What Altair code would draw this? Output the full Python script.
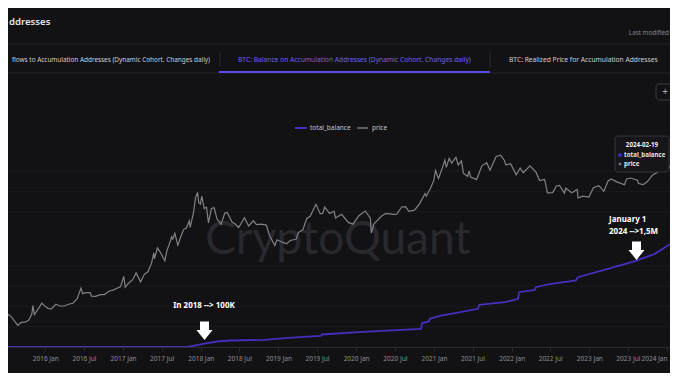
import altair as alt
import pandas as pd

# ---------------- data ----------------
price_dates = [
    "2015-06-01", "2015-06-20", "2015-07-12", "2015-07-25", "2015-08-18", "2015-08-25", "2015-09-10",
    "2015-09-28", "2015-10-15", "2015-10-30", "2015-11-04", "2015-11-11", "2015-11-25", "2015-12-16",
    "2015-12-28", "2016-01-15", "2016-01-30", "2016-02-20", "2016-03-10", "2016-03-30", "2016-04-20",
    "2016-05-10", "2016-05-30", "2016-06-17", "2016-06-25", "2016-07-10", "2016-07-30", "2016-08-05",
    "2016-08-25", "2016-09-15", "2016-10-05", "2016-10-28", "2016-11-15", "2016-12-01", "2016-12-20",
    "2017-01-04", "2017-01-11", "2017-01-25", "2017-02-15", "2017-03-03", "2017-03-24", "2017-04-10",
    "2017-04-28", "2017-05-15", "2017-05-25", "2017-05-28", "2017-06-11", "2017-06-25", "2017-07-16",
    "2017-07-26", "2017-08-12", "2017-08-17", "2017-08-22", "2017-09-01", "2017-09-15", "2017-09-28",
    "2017-10-12", "2017-10-25", "2017-11-08", "2017-11-12", "2017-11-28", "2017-12-07", "2017-12-17",
    "2017-12-22", "2017-12-30", "2018-01-06", "2018-01-17", "2018-01-28", "2018-02-06", "2018-02-20",
    "2018-03-05", "2018-03-18", "2018-04-06", "2018-04-24", "2018-05-05", "2018-05-28", "2018-06-10",
    "2018-06-28", "2018-07-25", "2018-08-14", "2018-09-05", "2018-09-20", "2018-10-10", "2018-11-05",
    "2018-11-20", "2018-12-15", "2018-12-25", "2019-01-15", "2019-02-08", "2019-02-25", "2019-03-25",
    "2019-04-05", "2019-04-25", "2019-05-14", "2019-05-30", "2019-06-26", "2019-07-16", "2019-07-28",
    "2019-08-06", "2019-08-29", "2019-09-20", "2019-09-26", "2019-10-25", "2019-11-25", "2019-12-17",
    "2020-01-14", "2020-02-13", "2020-03-08", "2020-03-12", "2020-03-25", "2020-04-30", "2020-05-20",
    "2020-06-25", "2020-07-10", "2020-08-02", "2020-08-20", "2020-09-05", "2020-10-01", "2020-10-25",
    "2020-11-20", "2020-11-26", "2020-12-17", "2020-12-31", "2021-01-08", "2021-01-22", "2021-02-10",
    "2021-02-21", "2021-02-28", "2021-03-13", "2021-03-25", "2021-04-14", "2021-04-25", "2021-05-10",
    "2021-05-19", "2021-06-08", "2021-06-15", "2021-06-22", "2021-07-20", "2021-08-14", "2021-09-06",
    "2021-09-21", "2021-10-20", "2021-11-10", "2021-11-28", "2021-12-04", "2021-12-27", "2022-01-22",
    "2022-02-10", "2022-02-24", "2022-03-28", "2022-04-26", "2022-05-12", "2022-06-05", "2022-06-18",
    "2022-07-13", "2022-07-30", "2022-08-14", "2022-09-06", "2022-09-12", "2022-10-10", "2022-11-05",
    "2022-11-09", "2022-12-01", "2022-12-30", "2023-01-20", "2023-02-15", "2023-03-10", "2023-03-30",
    "2023-04-13", "2023-05-10", "2023-06-15", "2023-06-25", "2023-07-13", "2023-08-15", "2023-08-20",
    "2023-09-11", "2023-10-01", "2023-10-24", "2023-11-15", "2023-12-08", "2023-12-20", "2024-01-11",
    "2024-01-23", "2024-02-15",
]
price_values = [
    225, 245, 310, 290, 230, 215, 238,
    240, 255, 315, 420, 310, 360, 455,
    420, 380, 375, 440, 415, 415, 440,
    455, 530, 760, 630, 650, 650, 580,
    575, 610, 610, 690, 710, 750, 800,
    1130, 780, 890, 1010, 1270, 940, 1200,
    1330, 1780, 2500, 2050, 2950, 2550, 1920,
    2700, 3800, 4300, 4000, 4850, 3250, 4200,
    5500, 5800, 7400, 5900, 9800, 16000, 19300,
    13800, 13000, 17100, 11200, 11700, 6900, 11200,
    11500, 7900, 6600, 9600, 9800, 7100, 6700,
    5900, 8200, 6200, 7400, 6500, 6600, 6400,
    4500, 3200, 3900, 3650, 3400, 3800, 3950,
    5000, 5400, 8000, 8600, 12900, 9400, 9500,
    11800, 9500, 10200, 8100, 9200, 7000, 6600,
    8800, 10300, 8000, 4900, 6700, 8700, 9500,
    9200, 9250, 11800, 11900, 10200, 10600, 13100,
    18600, 17000, 22800, 29000, 40500, 31000, 45000,
    57500, 45000, 61000, 52000, 63500, 49000, 56000,
    37000, 33000, 40000, 32500, 29800, 47500, 52700,
    41000, 65000, 68000, 57000, 49000, 51000, 35000,
    44000, 37500, 47500, 38000, 28800, 30000, 19000,
    19200, 24000, 24500, 18800, 22400, 19100, 21300,
    16000, 17000, 16500, 22700, 24300, 20000, 28500,
    30400, 27600, 25000, 30500, 31400, 29200, 26100,
    25100, 27900, 34500, 37800, 44000, 43600, 46600,
    39500, 52000,
]

balance_dates = [
    "2015-06-01", "2017-11-01", "2018-01-12", "2018-03-18", "2018-05-18", "2018-10-29",
    "2019-02-15", "2019-07-19", "2019-07-24", "2020-01-10", "2020-11-01", "2020-11-06",
    "2020-12-08", "2020-12-13", "2021-02-08", "2021-04-10", "2021-07-27", "2021-08-01",
    "2021-12-01", "2022-01-31", "2022-02-05", "2022-04-20", "2022-04-25", "2022-06-20",
    "2022-10-30", "2022-11-08", "2023-03-29", "2023-08-03", "2023-11-04", "2024-01-05",
    "2024-02-21",
]
balance_values = [
    0, 0, 47000, 81000, 96000, 106000,
    136000, 163000, 185000, 219000, 269000, 352000,
    377000, 421000, 466000, 500000, 565000, 624000,
    662000, 712000, 810000, 845000, 884000, 924000,
    983000, 1032000, 1156000, 1268000, 1377000, 1500000,
    1574000,
]

tick_months = [(y, m) for y in range(2016, 2025) for m in (1, 7) if (y, m) <= (2024, 1)]
price_grid = [10000, 20000, 40000]
balance_grid = [300000, 600000, 900000, 1200000]

legend_labels = ["total_balance", "price"]
tab_labels = [
    "flows to Accumulation Addresses (Dynamic Cohort. Changes daily)",
    "BTC: Balance on Accumulation Addresses (Dynamic Cohort. Changes daily)",
    "BTC: Realized Price for Accumulation Addresses",
]
header_title = "ddresses"
header_note = "Last modified"
tooltip_title = "2024-02-19"
note_2018 = "In 2018 --> 100K"
note_2024 = ["January 1", "2024 -->1,5M"]

# ---------------- styling ----------------
BG = "#121215"
PURPLE = "#4330bd"
GRAY = "#818187"
FONT = "Noto Sans"
W, H = 662, 339

price_df = pd.DataFrame({"date": pd.to_datetime(price_dates), "price": price_values})
bal_df = pd.DataFrame({"date": pd.to_datetime(balance_dates), "total_balance": balance_values})

x_dom = [alt.DateTime(year=2015, month=7, date=10), alt.DateTime(year=2024, month=1, date=15)]
x_axis = alt.Axis(
    format="%Y %b",
    values=[alt.DateTime(year=y, month=m, date=1) for y, m in tick_months],
    title=None, grid=False, domainColor="#2a2a30", tickColor="#2a2a30", tickSize=4,
    labelColor="#8e8e94", labelFontSize=6.5, labelFont=FONT, labelPadding=4, labelFlush=6,
)
x_enc = alt.X("date:T", scale=alt.Scale(domain=x_dom), axis=x_axis)

bal_scale = alt.Scale(domain=[0, 5010000], nice=False, zero=True)
price_scale = alt.Scale(type="log", domain=[103.7, 9860000], nice=False)

grid_p = alt.Chart(pd.DataFrame({"v": price_grid})).mark_rule(color="#1b1b20", strokeWidth=1).encode(
    y=alt.Y("v:Q", scale=price_scale, axis=None))
grid_b = alt.Chart(pd.DataFrame({"v": balance_grid})).mark_rule(color="#1b1b20", strokeWidth=1).encode(
    y=alt.Y("v:Q", scale=bal_scale, axis=None))

price_line = alt.Chart(price_df).mark_line(color=GRAY, strokeWidth=1.2, clip=True).encode(
    x=x_enc, y=alt.Y("price:Q", scale=price_scale, axis=None))
bal_line = alt.Chart(bal_df).mark_line(color=PURPLE, strokeWidth=1.8, clip=True).encode(
    x=x_enc, y=alt.Y("total_balance:Q", scale=bal_scale, axis=None))


def txt(s, x, y, size, color, weight="normal", align="left", font=FONT):
    return alt.Chart(pd.DataFrame({"t": [s]})).mark_text(
        text=s, fontSize=size, color=color, fontWeight=weight, align=align,
        baseline="middle", font=font).encode(x=alt.value(x), y=alt.value(y))


def hrule(x1, x2, y, color, w=1):
    return alt.Chart(pd.DataFrame({"a": [0]})).mark_rule(color=color, strokeWidth=w).encode(
        x=alt.value(x1), x2=alt.value(x2), y=alt.value(y))


def vrule(x, y1, y2, color, w=1):
    return alt.Chart(pd.DataFrame({"a": [0]})).mark_rule(color=color, strokeWidth=w).encode(
        x=alt.value(x), y=alt.value(y1), y2=alt.value(y2))


def box(x1, x2, y1, y2, fill, stroke):
    return alt.Chart(pd.DataFrame({"a": [0]})).mark_rect(
        fill=fill, stroke=stroke, strokeWidth=1, cornerRadius=3).encode(
        x=alt.value(x1), x2=alt.value(x2), y=alt.value(y1), y2=alt.value(y2))


ARROW = "M-0.45,-0.92L0.45,-0.92L0.45,-0.09L0.8,-0.09L0,0.92L-0.8,-0.09L-0.45,-0.09Z"


def arrow(x, y):
    return alt.Chart(pd.DataFrame({"a": [0]})).mark_point(
        shape=ARROW, size=400, filled=True, fill="white", opacity=1, strokeWidth=0).encode(
        x=alt.value(x), y=alt.value(y))


def dot(x, y, color, shape="circle"):
    return alt.Chart(pd.DataFrame({"a": [0]})).mark_point(
        shape=shape, size=14, filled=True, fill=color, opacity=1, strokeWidth=0).encode(
        x=alt.value(x), y=alt.value(y))


layers = [
    grid_p, grid_b,
    txt("CryptoQuant", 330, 232, 46, "#28282d", weight="normal", align="center", font="Lato"),
    price_line, bal_line,
    # header
    txt(header_title, 1, 14, 9.6, "#e4e4e6", weight=600),
    txt(header_note, 661, 25, 6.3, "#85858b", align="right"),
    hrule(0, W, 36, "#222228"),
    hrule(0, W, 65, "#222228"),
    txt(tab_labels[0], 202, 51.5, 6.4, "#cfcfd2", align="right"),
    vrule(212, 44, 59, "#2a2a30"),
    txt(tab_labels[1], 230, 51.5, 6.7, "#6d61ee"),
    hrule(211, 482, 64, "#5b4ee6", 2),
    vrule(482, 44, 59, "#2a2a30"),
    txt(tab_labels[2], 501, 51.5, 6.7, "#cfcfd2"),
    box(648, 690, 76, 92, BG, "#3a3a40"),
    txt("+", 657, 84, 10, "#aaaaaf", align="center"),
    # legend
    hrule(287, 299, 120, PURPLE, 2),
    txt(legend_labels[0], 302, 120, 6.5, "#c4c4c8"),
    hrule(349, 360, 120, "#5a5a60", 2),
    txt(legend_labels[1], 364, 120, 6.5, "#c4c4c8"),
    # annotations
    txt(note_2018, 196, 298, 8, "white", weight="bold", align="center"),
    arrow(196.5, 322.8),
    txt(note_2024[0], 601, 211.5, 8, "white", weight="bold"),
    txt(note_2024[1], 601, 223.5, 8, "white", weight="bold"),
    arrow(628.5, 242.8),
    # tooltip
    box(607, 661, 128, 164, "#16161a", "#34343a"),
    txt(tooltip_title, 634, 137, 6.2, "#f0f0f2", weight="bold", align="center"),
    dot(612, 147, "#3f2fd0"),
    txt(legend_labels[0], 616, 147, 6.2, "#e0e0e3", weight="bold"),
    dot(612, 156, "#76767c", shape="diamond"),
    txt(legend_labels[1], 616, 156, 6.2, "#e0e0e3", weight="bold"),
]

chart = alt.layer(*layers).resolve_scale(y="independent").properties(
    width=W, height=H, background=BG,
    padding={"left": 0, "top": 0, "right": 0, "bottom": 26},
    autosize=alt.AutoSizeParams(type="none"),
).configure_view(stroke=None)

chart.save("out.html", embed_options={"renderer": "svg", "actions": False})
